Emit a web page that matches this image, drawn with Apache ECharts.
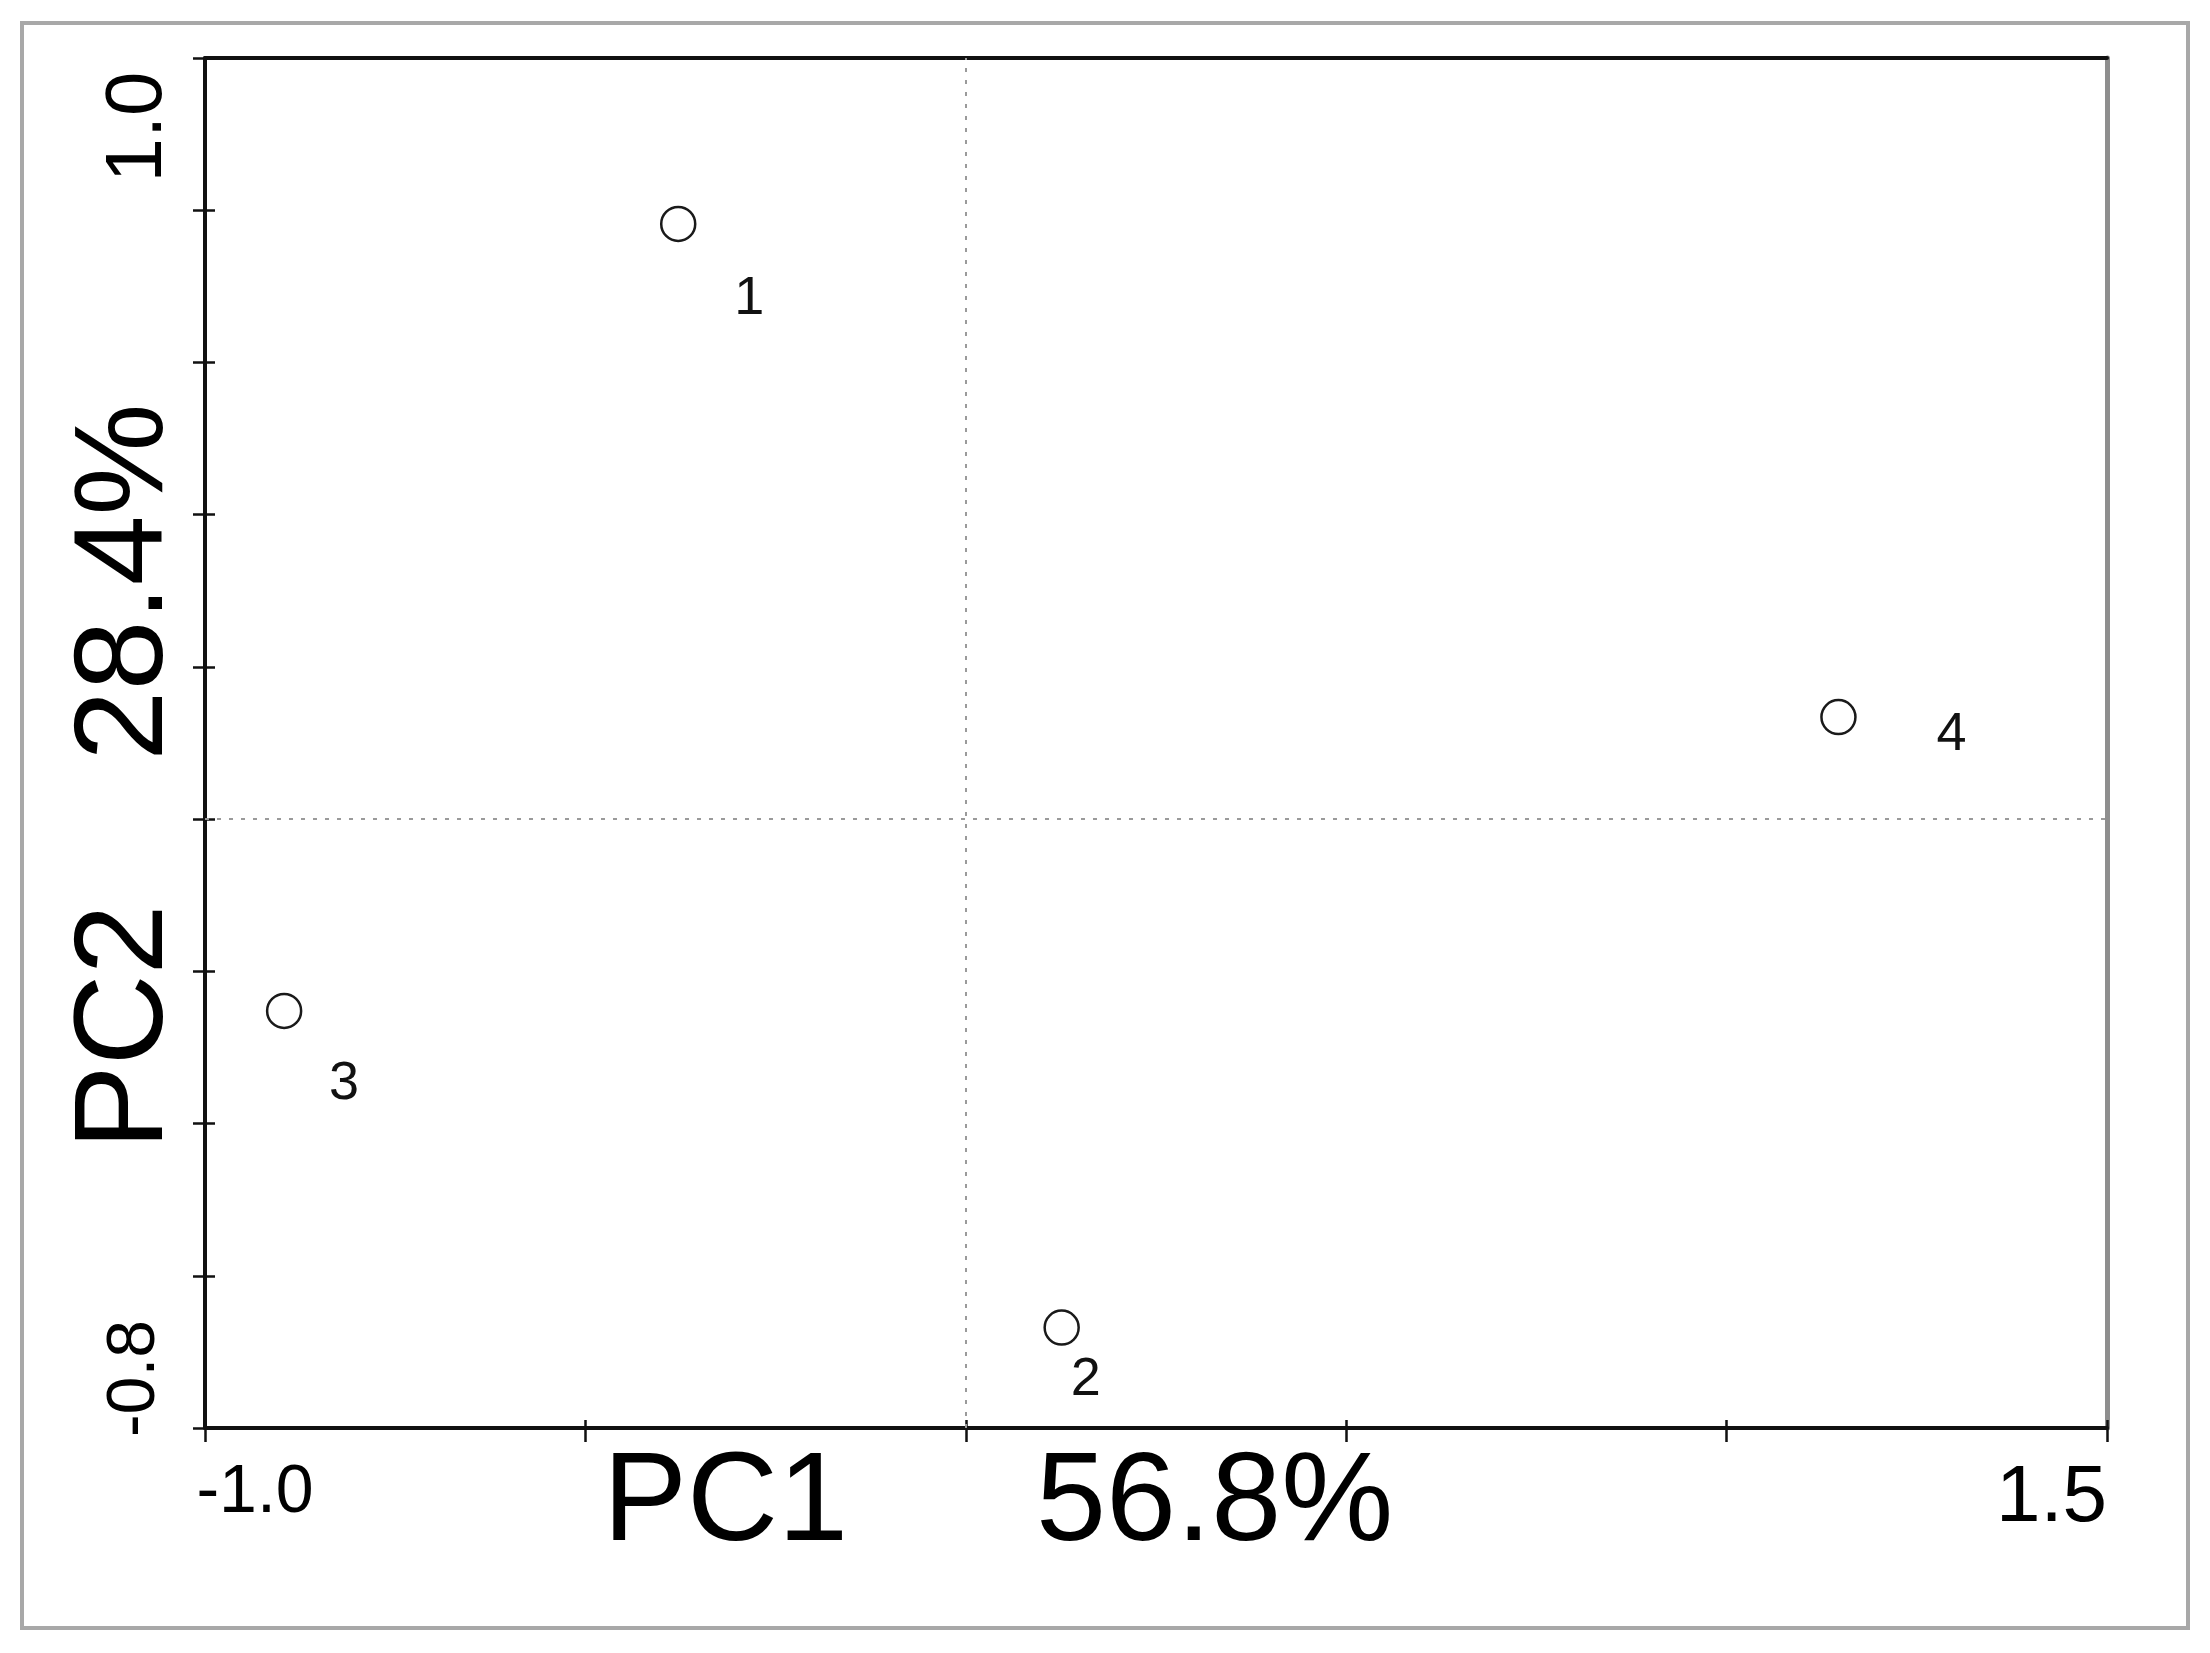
<!DOCTYPE html>
<html>
<head>
<meta charset="utf-8">
<style>
  html, body { margin: 0; padding: 0; background: #ffffff; }
  #chart { width: 2210px; height: 1653px; }
</style>
<script src="https://cdn.jsdelivr.net/npm/echarts@6/dist/echarts.min.js"></script>
</head>
<body>
<div id="chart"></div>
<script>
// ---- data ----
const pointNames = ['1', '2', '3', '4'];
const pc1Values = [-0.378, 0.126, -0.896, 1.147];
const pc2Values = [0.782, -0.668, -0.252, 0.134];

// axis ranges & shown tick labels
const xMin = -1.0, xMax = 1.5, xStep = 0.5;
const yMin = -0.8, yMax = 1.0, yStep = 0.2;
const xTickLabels = ['-1.0', '1.5'];
const yTickLabels = ['-0.8', '1.0'];

const xTitle = ['PC1', '56.8%'];
const yTitle = ['PC2', '28.4%'];

// ---- chart ----
const FONT = '"Liberation Sans", Arial, sans-serif';
const near = (a, b) => Math.abs(a - b) < 1e-6;

const labelOffsets = [[71, 75], [24, 53], [60, 73], [113, 18]];

const seriesData = pointNames.map((n, i) => ({
  name: n,
  value: [pc1Values[i], pc2Values[i]],
  label: { offset: labelOffsets[i] }
}));

const chart = echarts.init(document.getElementById('chart'), null, { renderer: 'canvas' });

const grid = { left: 205, top: 58, right: 103, bottom: 225, containLabel: false, outerBoundsMode: 'none' };

const option = {
  animation: false,
  backgroundColor: '#ffffff',
  grid: grid,
  xAxis: [
    {
      type: 'value', position: 'bottom', min: xMin, max: xMax, interval: xStep,
      axisLine: { show: true, onZero: false, lineStyle: { color: '#111', width: 4 } },
      axisTick: { show: true, inside: false, length: 14, lineStyle: { color: '#111', width: 2.5 } },
      splitLine: { show: false },
      axisLabel: {
        show: true, interval: 0, margin: 31, showMinLabel: true, showMaxLabel: true,
        hideOverlap: false,
        fontFamily: FONT, color: '#000',
        formatter: v => near(v, xMin) ? '{xmin|' + xTickLabels[0] + '}' : (near(v, xMax) ? '{xmax|' + xTickLabels[1] + '}' : ''),
        rich: {
          xmin: { fontSize: 68, fontFamily: FONT, color: '#000', padding: [0, 0, 0, 100] },
          xmax: { fontSize: 80, fontFamily: FONT, color: '#000', padding: [0, 111, 0, 0] }
        }
      }
    },
    {
      type: 'value', position: 'bottom', min: xMin, max: xMax, interval: xStep,
      axisLine: { show: false, onZero: false },
      axisTick: { show: true, inside: true, length: 8, lineStyle: { color: '#111', width: 2.5 } },
      axisLabel: { show: false }, splitLine: { show: false }
    },
    {
      type: 'value', position: 'top', min: xMin, max: xMax, interval: xStep,
      axisLine: { show: true, onZero: false, lineStyle: { color: '#111', width: 4 } },
      axisTick: { show: false }, axisLabel: { show: false }, splitLine: { show: false }
    }
  ],
  yAxis: [
    {
      type: 'value', position: 'left', min: yMin, max: yMax, interval: yStep,
      axisLine: { show: true, onZero: false, lineStyle: { color: '#111', width: 4 } },
      axisTick: { show: true, inside: false, length: 12, lineStyle: { color: '#111', width: 2.5 } },
      splitLine: { show: false },
      axisLabel: {
        show: true, rotate: 90, interval: 0, margin: 20, showMinLabel: true, showMaxLabel: true,
        hideOverlap: false,
        fontFamily: FONT, color: '#000',
        formatter: v => near(v, yMax) ? '{ymax|' + yTickLabels[1] + '}' : (near(v, yMin) ? '{ymin|' + yTickLabels[0] + '}' : ''),
        rich: {
          ymax: { fontSize: 80, fontFamily: FONT, color: '#000', padding: [0, 138, 6, 0] },
          ymin: { fontSize: 68, fontFamily: FONT, color: '#000', padding: [0, 0, 16, 99] }
        }
      }
    },
    {
      type: 'value', position: 'left', min: yMin, max: yMax, interval: yStep,
      axisLine: { show: false, onZero: false },
      axisTick: { show: true, inside: true, length: 10, lineStyle: { color: '#111', width: 2.5 } },
      axisLabel: { show: false }, splitLine: { show: false }
    },
    {
      type: 'value', position: 'right', min: yMin, max: yMax, interval: yStep,
      axisLine: { show: true, onZero: false, lineStyle: { color: '#8e8e8e', width: 5 } },
      axisTick: { show: false }, axisLabel: { show: false }, splitLine: { show: false }
    }
  ],
  series: [
    {
      type: 'scatter',
      xAxisIndex: 0, yAxisIndex: 0,
      symbol: 'circle',
      symbolSize: 34,
      itemStyle: { color: '#ffffff', borderColor: '#1a1a1a', borderWidth: 2.5, opacity: 1 },
      label: {
        show: true, position: 'inside', formatter: p => p.name,
        fontSize: 54, fontFamily: FONT, color: '#111'
      },
      emphasis: { disabled: true },
      data: seriesData,
      markLine: {
        silent: true,
        symbol: ['none', 'none'],
        label: { show: false },
        lineStyle: { color: '#9a9a9a', width: 2, type: [4, 8] },
        data: [{ xAxis: 0 }, { yAxis: 0 }]
      },
      z: 5
    }
  ],
  graphic: [
    {
      type: 'rect', silent: true, z: -1,
      shape: { x: 22, y: 23, width: 2166, height: 1605 },
      style: { fill: 'none', stroke: '#a8a8a8', lineWidth: 4 }
    },
    {
      type: 'text', x: 603, y: 1505,
      style: { text: xTitle[0], fontSize: 126, fontFamily: FONT, fill: '#000', align: 'left', verticalAlign: 'middle' }
    },
    {
      type: 'text', x: 1036, y: 1505,
      style: { text: xTitle[1], fontSize: 126, fontFamily: FONT, fill: '#000', align: 'left', verticalAlign: 'middle' }
    },
    {
      type: 'text', x: 127, y: 1027, rotation: Math.PI / 2,
      style: { text: yTitle[0], fontSize: 126, fontFamily: FONT, fill: '#000', align: 'center', verticalAlign: 'middle' }
    },
    {
      type: 'text', x: 127, y: 582, rotation: Math.PI / 2,
      style: { text: yTitle[1], fontSize: 126, fontFamily: FONT, fill: '#000', align: 'center', verticalAlign: 'middle' }
    }
  ]
};

chart.setOption(option);
</script>
</body>
</html>
